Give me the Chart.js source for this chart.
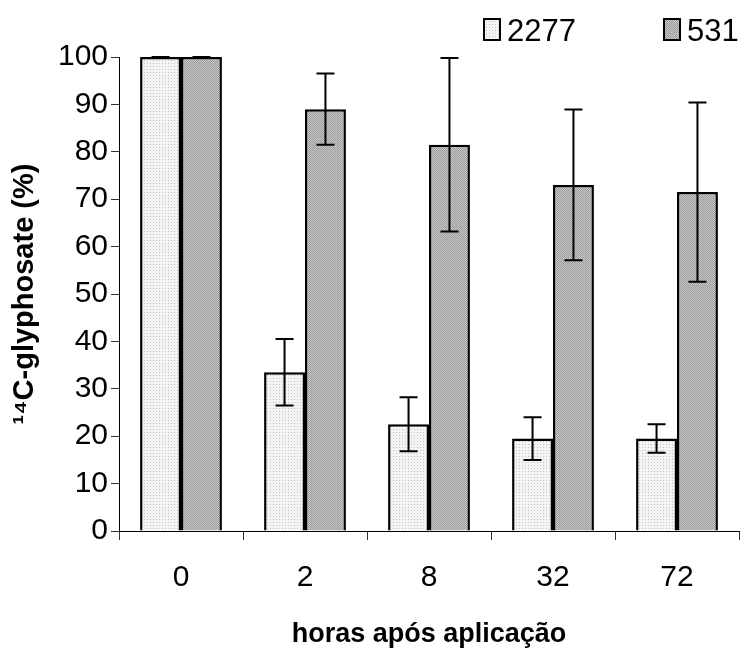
<!DOCTYPE html>
<html>
<head>
<meta charset="utf-8">
<script src="https://cdn.jsdelivr.net/npm/chart.js@4.4.0/dist/chart.umd.min.js"></script>
<style>
  body { margin: 0; background: #fff; }
  #wrap { width: 743px; height: 651px; position: relative; }
</style>
</head>
<body>
<div id="wrap"><canvas id="chart"></canvas></div>
<script>
// Data
const hours = ['0', '2', '8', '32', '72'];
const seriesNames = ['2277', '531'];
const values2277 = [100, 33.5, 22.5, 19.5, 19.5];
const values531 = [100, 89, 81.5, 73, 71.5];
const err2277 = [0, 7, 5.7, 4.5, 3];
const err531 = [0, 7.5, 18.3, 15.9, 18.9];
const yTicks = [0, 10, 20, 30, 40, 50, 60, 70, 80, 90, 100];

const FONT = "'Liberation Sans', Arial, sans-serif";

// small textured fills like the original
function makePattern(bg, dot, size, cells) {
  const c = document.createElement('canvas');
  c.width = size; c.height = size;
  const g = c.getContext('2d');
  g.fillStyle = bg;
  g.fillRect(0, 0, size, size);
  g.fillStyle = dot;
  cells.forEach(p => g.fillRect(p[0], p[1], 1, 1));
  return g.createPattern(c, 'repeat');
}
const lightFill = makePattern('#f4f4f4', '#c4c4c4', 3, [[0, 0]]);
const darkFill = makePattern('#c8c8c8', '#9a9a9a', 2, [[0, 0], [1, 1]]);

// error bars drawn from the y scale
const errorBars = {
  id: 'errorBars',
  afterDatasetsDraw(chart) {
    const ctx = chart.ctx;
    const y = chart.scales.y;
    const errs = [err2277, err531];
    ctx.save();
    ctx.strokeStyle = '#000';
    ctx.lineWidth = 2;
    chart.data.datasets.forEach((ds, i) => {
      const meta = chart.getDatasetMeta(i);
      meta.data.forEach((bar, j) => {
        const v = ds.data[j];
        const e = errs[i][j];
        const top = y.getPixelForValue(v + e);
        const bot = y.getPixelForValue(v - e);
        const x = bar.x;
        ctx.beginPath();
        ctx.moveTo(x, top); ctx.lineTo(x, bot);
        ctx.moveTo(x - 9, top); ctx.lineTo(x + 9, top);
        ctx.moveTo(x - 9, bot); ctx.lineTo(x + 9, bot);
        ctx.stroke();
      });
    });
    ctx.restore();
  }
};

// legend in the top right corner, as in the figure
const cornerLegend = {
  id: 'cornerLegend',
  afterDraw(chart) {
    const ctx = chart.ctx;
    const spots = [484, 664];
    ctx.save();
    ctx.font = '31px ' + FONT;
    ctx.textBaseline = 'alphabetic';
    chart.data.datasets.forEach((ds, i) => {
      const bx = spots[i];
      ctx.fillStyle = ds.backgroundColor;
      ctx.fillRect(bx, 19, 16, 21);
      ctx.strokeStyle = '#000';
      ctx.lineWidth = 2;
      ctx.strokeRect(bx, 19, 16, 21);
      ctx.fillStyle = '#000';
      ctx.fillText(ds.label, bx + 23, 41);
    });
    ctx.restore();
  }
};

new Chart(document.getElementById('chart'), {
  type: 'bar',
  data: {
    labels: hours,
    datasets: [
      { label: seriesNames[0], data: values2277, backgroundColor: lightFill,
        borderColor: '#000', borderWidth: 2.5 },
      { label: seriesNames[1], data: values531, backgroundColor: darkFill,
        borderColor: '#000', borderWidth: 2.5 }
    ]
  },
  options: {
    responsive: true,
    maintainAspectRatio: false,
    animation: false,
    layout: { padding: { top: 57, right: 4, left: 0, bottom: 0 } },
    datasets: { bar: { categoryPercentage: 0.66, barPercentage: 1 } },
    plugins: {
      legend: { display: false },
      tooltip: { enabled: false }
    },
    scales: {
      x: {
        grid: { offset: true, drawOnChartArea: false, tickLength: 9, color: '#333' },
        border: { color: '#000', width: 1 },
        ticks: { font: { family: FONT, size: 30 }, color: '#000', padding: 20 },
        title: {
          display: true, text: 'horas após aplicação',
          font: { family: FONT, size: 27, weight: 'bold' }, color: '#000',
          padding: { top: 0, bottom: 0 }
        },
        afterFit(scale) { scale.height = 120; }
      },
      y: {
        min: 0, max: 100,
        afterBuildTicks(scale) { scale.ticks = yTicks.map(v => ({ value: v })); },
        grid: { drawOnChartArea: false, tickLength: 8, color: '#333' },
        border: { color: '#000', width: 1 },
        ticks: { font: { family: FONT, size: 30 }, color: '#000', padding: 3 },
        title: {
          display: true, text: '¹⁴C-glyphosate (%)',
          font: { family: FONT, size: 29, weight: 'bold' }, color: '#000',
          padding: { top: 8, bottom: 0 }
        },
        afterFit(scale) { scale.width = 119; }
      }
    }
  },
  plugins: [errorBars, cornerLegend]
});
</script>
</body>
</html>
